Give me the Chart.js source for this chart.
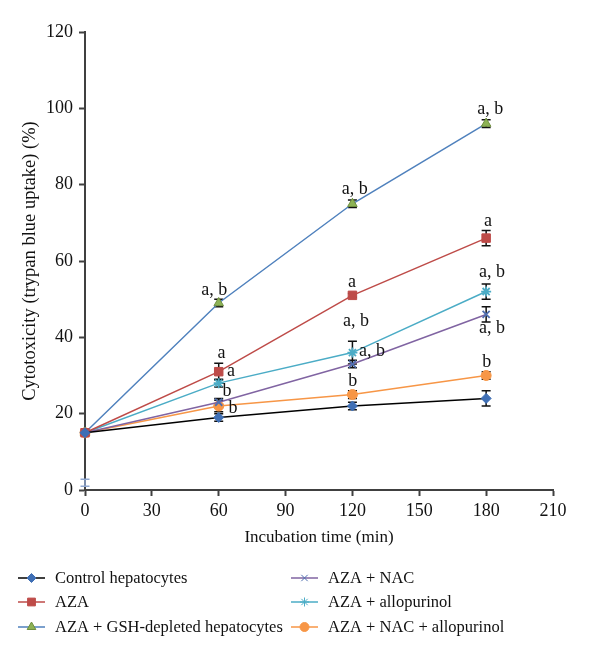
<!DOCTYPE html>
<html>
<head>
<meta charset="utf-8">
<script src="https://cdn.jsdelivr.net/npm/chart.js@4.4.0/dist/chart.umd.min.js"></script>
<style>
  html, body { margin: 0; padding: 0; background: #fff; }
  #chart { display: block; }
</style>
</head>
<body>
<canvas id="chart" width="600" height="658"></canvas>
<script>
// ---- data ----
const timePoints = [0, 60, 120, 180];
const seriesNames = [
  'Control hepatocytes',
  'AZA',
  'AZA + GSH-depleted hepatocytes',
  'AZA + NAC',
  'AZA + allopurinol',
  'AZA + NAC + allopurinol'
];
const controlValues = [15, 19, 22, 24];
const azaValues = [15, 31, 51, 66];
const gshDepletedValues = [15, 49, 75, 96];
const nacValues = [15, 23, 33, 46];
const allopurinolValues = [15, 28, 36, 52];
const nacAllopurinolValues = [15, 22, 25, 30];

// error bars (+/-)
const controlErr = [0, 1, 1, 2];
const azaErr = [0, 2.2, 0.5, 2];
const gshDepletedErr = [0, 1, 1, 1];
const nacErr = [0, 1, 1, 2];
const allopurinolErr = [0, 1, 3, 2];
const nacAllopurinolErr = [0, 1.5, 1, 1];

// odd little error mark sitting at t = 0 near the baseline
const strayValue = [1.9];
const strayErr = [0.9];

const yTicks = [0, 20, 40, 60, 80, 100, 120];
const xTicks = [0, 30, 60, 90, 120, 150, 180, 210];

// significance letters: [time, value, text]
const sigLabels = [
  [58, 52.3, 'a, b'], [121, 78.9, 'a, b'], [181.8, 99.8, 'a, b'],
  [61.3, 35.9, 'a'], [119.8, 54.5, 'a'], [180.8, 70.5, 'a'],
  [65.5, 31.2, 'a'], [63.7, 25.8, 'b'], [66.4, 21.5, 'b'],
  [121.6, 44.3, 'a, b'], [128.8, 36.4, 'a, b'], [120.2, 28.6, 'b'],
  [182.6, 57.1, 'a, b'], [182.6, 42.4, 'a, b'], [180.3, 33.5, 'b']
];

const FONT = "'Liberation Serif', 'Times New Roman', serif";

const toPoints = vals => vals.map((v, i) => ({ x: timePoints[i], y: v }));

const styles = [
  { line: '#000000', fill: '#3f6fb5', border: '#3f6fb5', style: 'rectRot', r: 5 },
  { line: '#be4b48', fill: '#be4b48', border: '#be4b48', style: 'rect', r: 6 },
  { line: '#4f81bd', fill: '#8db255', border: '#6e8f3e', style: 'triangle', r: 5.5 },
  { line: '#8064a2', fill: '#4f6fb0', border: '#4f6fb0', style: 'crossRot', r: 5 },
  { line: '#4bacc6', fill: '#4bacc6', border: '#4bacc6', style: 'star', r: 5 },
  { line: '#f79646', fill: '#f79646', border: '#f79646', style: 'circle', r: 5 }
];
const seriesValues = [controlValues, azaValues, gshDepletedValues, nacValues, allopurinolValues, nacAllopurinolValues];
const seriesErrors = [controlErr, azaErr, gshDepletedErr, nacErr, allopurinolErr, nacAllopurinolErr];

const datasets = seriesValues.map((vals, i) => ({
  label: seriesNames[i],
  data: toPoints(vals),
  clip: false,
  borderColor: styles[i].line,
  borderWidth: 1.5,
  backgroundColor: styles[i].fill,
  pointBackgroundColor: styles[i].fill,
  pointBorderColor: styles[i].border,
  pointBorderWidth: styles[i].style === 'crossRot' || styles[i].style === 'star' ? 1.8 : 1,
  pointStyle: styles[i].style,
  pointRadius: styles[i].r,
  tension: 0,
  errors: seriesErrors[i],
  errColor: '#111'
}));

datasets.push({
  label: 'stray',
  data: toPoints(strayValue),
  clip: false,
  showLine: false,
  pointRadius: 0,
  borderColor: '#8ea6cf',
  errors: strayErr,
  errColor: '#8ea6cf'
});

// draws error bars under the markers
const errorBars = {
  id: 'errorBars',
  beforeDatasetsDraw(chart) {
    const ctx = chart.ctx;
    const yScale = chart.scales.y;
    ctx.save();
    chart.data.datasets.forEach((ds, i) => {
      if (!ds.errors) return;
      const meta = chart.getDatasetMeta(i);
      ctx.strokeStyle = ds.errColor;
      ctx.lineWidth = 1.5;
      meta.data.forEach((pt, j) => {
        const v = ds.data[j].y;
        const e = ds.errors[j];
        if (!e) return;
        const top = yScale.getPixelForValue(v + e);
        const bot = yScale.getPixelForValue(v - e);
        ctx.beginPath();
        ctx.moveTo(pt.x, top); ctx.lineTo(pt.x, bot);
        ctx.moveTo(pt.x - 4.5, top); ctx.lineTo(pt.x + 4.5, top);
        ctx.moveTo(pt.x - 4.5, bot); ctx.lineTo(pt.x + 4.5, bot);
        ctx.stroke();
      });
    });
    ctx.restore();
  }
};

// significance letters
const letters = {
  id: 'letters',
  afterDatasetsDraw(chart) {
    const ctx = chart.ctx;
    const xs = chart.scales.x, ys = chart.scales.y;
    ctx.save();
    ctx.font = '18px ' + FONT;
    ctx.fillStyle = '#111';
    ctx.textAlign = 'center';
    ctx.textBaseline = 'middle';
    sigLabels.forEach(([t, v, txt]) => {
      ctx.fillText(txt, xs.getPixelForValue(t), ys.getPixelForValue(v));
    });
    ctx.restore();
  }
};

// two-column legend below the axis
const legendBlock = {
  id: 'legendBlock',
  afterDraw(chart) {
    const ctx = chart.ctx;
    const colX = [18, 291];
    const rowY = [578, 602, 627];
    ctx.save();
    ctx.font = '16.5px ' + FONT;
    ctx.textBaseline = 'middle';
    ctx.textAlign = 'left';
    seriesNames.forEach((name, i) => {
      const x = colX[Math.floor(i / 3)];
      const y = rowY[i % 3];
      const s = styles[i];
      ctx.strokeStyle = s.line;
      ctx.lineWidth = 1.5;
      ctx.beginPath();
      ctx.moveTo(x, y); ctx.lineTo(x + 27, y);
      ctx.stroke();
      ctx.fillStyle = s.fill;
      ctx.strokeStyle = s.border;
      ctx.lineWidth = 1;
      Chart.helpers.drawPoint(ctx, { pointStyle: s.style, radius: s.r - 0.5, rotation: 0, borderWidth: 1 }, x + 13.5, y);
      ctx.fillStyle = '#111';
      ctx.fillText(name, x + 37, y + 1);
    });
    ctx.restore();
  }
};

const axisColor = '#404040';

new Chart(document.getElementById('chart'), {
  type: 'line',
  data: { datasets },
  options: {
    responsive: false,
    animation: false,
    layout: { padding: { left: 0, right: 47, top: 32, bottom: 110 } },
    plugins: {
      legend: { display: false },
      tooltip: { enabled: false }
    },
    scales: {
      x: {
        type: 'linear',
        min: xTicks[0],
        max: xTicks[xTicks.length - 1],
        afterBuildTicks: scale => { scale.ticks = xTicks.map(v => ({ value: v })); },
        afterFit: scale => { scale.height = 58; },
        grid: { drawOnChartArea: false, drawTicks: true, tickLength: 6, tickColor: axisColor, tickWidth: 2 },
        border: { display: true, color: axisColor, width: 2 },
        ticks: { color: '#111', font: { family: FONT, size: 18 }, padding: 4, maxRotation: 0 },
        title: {
          display: true,
          text: 'Incubation time (min)',
          color: '#111',
          font: { family: FONT, size: 17 },
          padding: { top: 0, bottom: 0 }
        }
      },
      y: {
        min: yTicks[0],
        max: yTicks[yTicks.length - 1],
        afterBuildTicks: scale => { scale.ticks = yTicks.map(v => ({ value: v })); },
        afterFit: scale => { scale.width = 85; },
        grid: { drawOnChartArea: false, drawTicks: true, tickLength: 6, tickColor: axisColor, tickWidth: 2 },
        border: { display: true, color: axisColor, width: 2 },
        ticks: { color: '#111', font: { family: FONT, size: 18 }, padding: 6 },
        title: {
          display: true,
          text: 'Cytotoxicity (trypan blue uptake) (%)',
          color: '#111',
          font: { family: FONT, size: 18.5 },
          padding: { top: 19, bottom: 0 }
        }
      }
    }
  },
  plugins: [errorBars, letters, legendBlock]
});
</script>
</body>
</html>
